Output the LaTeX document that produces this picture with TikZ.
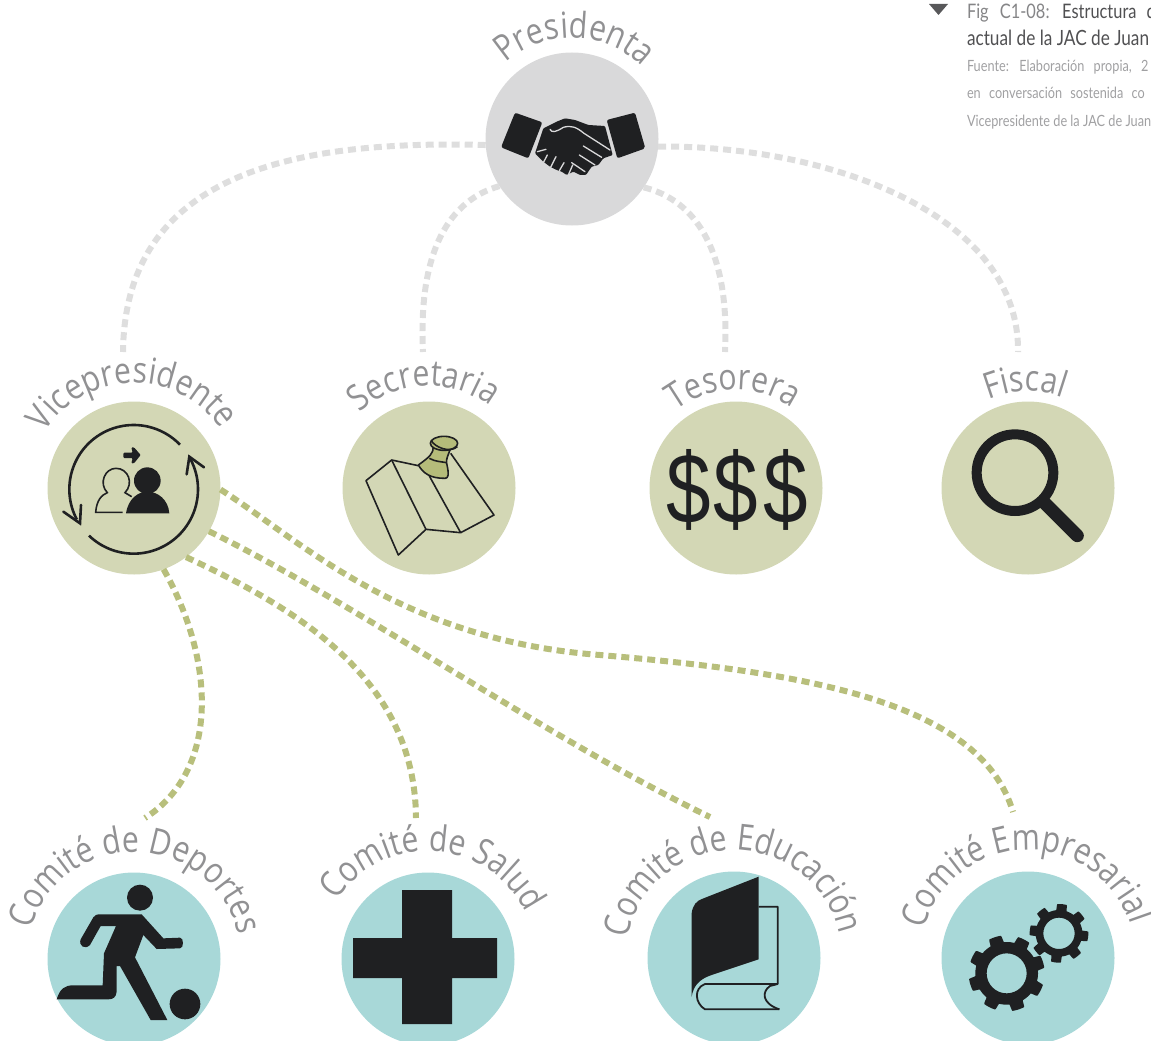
\documentclass[tikz,border=0pt]{standalone}
\usepackage{fontspec}
\usetikzlibrary{decorations.text}
\setmainfont{Open Sans}
\newfontfamily\labelfam[FakeStretch=0.84]{Open Sans}
\newfontfamily\capfont[FakeStretch=0.82]{Lato}
\newfontfamily\moneyfont[FakeStretch=0.8]{Liberation Sans}
\definecolor{iconblack}{HTML}{1F2022}
\definecolor{greycirc}{HTML}{D9D9DA}
\definecolor{olivecirc}{HTML}{D3D7B5}
\definecolor{tealcirc}{HTML}{A8D8D8}
\definecolor{greydash}{HTML}{DEDEDE}
\definecolor{greendash}{HTML}{B8BF7C}
\definecolor{pinolive}{HTML}{B5BC7A}
\definecolor{labgray}{HTML}{919193}
\definecolor{capdark}{HTML}{505052}
\definecolor{capmid}{HTML}{858587}
\definecolor{caplight}{HTML}{A0A0A2}
\definecolor{tridark}{HTML}{58585A}
\newcommand{\labfont}{\labelfam\fontsize{36}{40}\selectfont\color{labgray}}
% cx cy r mid text
\newcommand{\arclabel}[5]{\path[decorate,decoration={text along path,text={|\labfont|#5},text align=center}]
  plot[domain=#4+95:#4-95,samples=80] ({#1+#3*cos(\x)},{#2-#3*sin(\x)});}
% cx cy R0 R1 hole teeth phase
\newcommand{\geardraw}[7]{\fill[iconblack,even odd rule]
  plot[domain=0:360,samples=361] ({#1+(#3+(#4-#3)*max(0,min(1,2.4*cos(#6*(\x-#7))+0.45)))*cos(\x)},{#2-(#3+(#4-#3)*max(0,min(1,2.4*cos(#6*(\x-#7))+0.45)))*sin(\x)}) -- cycle
  (#1+#5,#2) arc[start angle=0,end angle=360,radius=#5];}
\tikzset{
  circ/.style={circle,minimum size=173pt,inner sep=0pt,outer sep=0pt},
  greylink/.style={draw=greydash,line width=6pt,dash pattern=on 8pt off 5pt},
  greenlink/.style={draw=greendash,line width=6pt,dash pattern=on 8pt off 5pt},
  capline/.style={anchor=base west,inner sep=0pt,outer sep=0pt},
  money/.style={text=iconblack,inner sep=0pt,font=\moneyfont\fontsize{100}{102}\selectfont},
  icon/.style={iconblack,line join=round},
  thinline/.style={draw=iconblack,line width=1.8pt,line join=round,fill=none},
  ringline/.style={draw=iconblack,line width=2.6pt},
  mapline/.style={draw=iconblack,line width=1.6pt,line join=round},
}
\begin{document}
\begin{tikzpicture}[x=1pt,y=-1pt]
\useasboundingbox (0,0) rectangle (1151,1041);
\clip (0,0) rectangle (1151,1041);
% circles
\node[circ,fill=greycirc] (pres) at (572,139) {};
\node[circ,fill=olivecirc] (vice) at (134,488) {};
\node[circ,fill=olivecirc] (secr) at (429,488) {};
\node[circ,fill=olivecirc] (teso) at (736,488) {};
\node[circ,fill=olivecirc] (fisc) at (1028,488) {};
\node[circ,fill=tealcirc] (depo) at (134,959) {};
\node[circ,fill=tealcirc] (salu) at (428,959) {};
\node[circ,fill=tealcirc] (educ) at (734,958) {};
\node[circ,fill=tealcirc] (empr) at (1028,958) {};
% free ends
\coordinate (eVice) at (123,352);
\coordinate (eSecr) at (423,352);
\coordinate (eTeso) at (725,352);
\coordinate (eFisc) at (1018,352);
\coordinate (eDepo) at (145,818);
\coordinate (eSalu) at (416,818);
\coordinate (eEduc) at (710,817);
\coordinate (eEmpr) at (1013,812);
\coordinate (mEmpr) at (600,655);
% connectors
\draw[greylink] (pres.184.6) .. controls (300,140) and (125,170) .. (eVice);
\draw[greylink] (pres.213) .. controls (450,200) and (418,250) .. (eSecr);
\draw[greylink] (pres.326) .. controls (695,200) and (730,250) .. (eTeso);
\draw[greylink] (pres.355.4) .. controls (830,145) and (1020,215) .. (eFisc);
\draw[greenlink] (vice.359) .. controls (300,540) and (400,640) .. (mEmpr) .. controls (800,672) and (980,700) .. (eEmpr);
\draw[greenlink] (vice.330) .. controls (350,600) and (550,740) .. (eEduc);
\draw[greenlink] (vice.307) .. controls (300,610) and (415,680) .. (eSalu);
\draw[greenlink] (vice.290) .. controls (215,660) and (220,770) .. (eDepo);
% labels
\arclabel{572}{139}{101}{88.5}{Presidenta}
\arclabel{134}{488}{105}{91}{Vicepresidente}
\arclabel{429}{488}{102}{93}{Secretaria}
\arclabel{736}{488}{98}{91.5}{Tesorera}
\arclabel{1028}{488}{97}{91.5}{Fiscal}
\arclabel{134}{959}{107}{88.5}{Comité de Deportes}
\arclabel{428}{959}{108}{86.5}{Comité de Salud}
\arclabel{734}{958}{108}{91}{Comité de Educación}
\arclabel{1028}{958}{108}{91.5}{Comité Empresarial}
% caption
\fill[tridark] (929,4) -- (948,4) -- (938.5,15) -- cycle;
\node[capline] (cap1) at (967,19) {\capfont\fontsize{20}{22}\selectfont\textcolor{capmid}{Fig\hspace{7pt} C1-08:}\hspace{7pt} \textcolor{capdark}{Estructura\hspace{6pt} d}};
\node[capline] (cap2) at (967,46) {\capfont\fontsize{21}{23}\selectfont\textcolor{capdark}{actual de la JAC de Juan}};
\node[capline] (cap3) at (967,72) {\capfont\fontsize{15.5}{17}\selectfont\textcolor{caplight}{Fuente:\hspace{6pt} Elaboración\hspace{6pt} propia,\hspace{6pt} 2}};
\node[capline] (cap4) at (967,99) {\capfont\fontsize{15.5}{17}\selectfont\textcolor{caplight}{en\hspace{5pt} conversación\hspace{5pt} sostenida\hspace{5pt} co}};
\node[capline] (cap5) at (967,126) {\capfont\fontsize{15.5}{17}\selectfont\textcolor{caplight}{Vicepresidente de la JAC de Juan}};
% handshake
\begin{scope}[shift={(460,40)},scale=1/3]
\fill[icon,rounded corners=2pt] (165,218) -- (247,247) -- (205,355) -- (123,322) -- cycle;
\fill[icon,rounded corners=2pt] (440,240) -- (525,218) -- (556,325) -- (472,355) -- cycle;
\fill[icon,rounded corners=1pt] (250,265) -- (290,245) -- (315,235) -- (345,240) -- (385,255) -- (435,258) -- (458,345) -- (430,355) -- (415,375) -- (395,380) -- (378,405) -- (360,405) -- (340,395) -- (320,405) -- (305,395) -- (290,390) -- (270,380) -- (250,365) -- (225,340) -- cycle;
\draw[greycirc,line width=1.3pt,line cap=round,line join=round] (270,268) .. controls (275,280) and (290,275) .. (310,262) .. controls (335,255) and (350,262) .. (372,280) -- (450,330);
\draw[greycirc,line width=1.3pt,line cap=round] (370,318) -- (425,352) (358,345) -- (405,375) (335,368) -- (375,395);
\draw[greycirc,line width=1.3pt,line cap=round] (232,335) -- (258,328) (262,345) -- (250,368) (288,350) -- (272,382) (312,368) -- (298,392) (338,375) -- (325,405);
\end{scope}
% vice icon
\begin{scope}[shift={(30,390)},scale=1/3]
\draw[ringline] plot[domain=44:208,samples=60] ({311+193*cos(\x)},{298-193*sin(\x)});
\draw[ringline] plot[domain=226:389,samples=60] ({311+193*cos(\x)},{298-193*sin(\x)});
\draw[ringline,line join=miter,line cap=round] (100,365) -- (150,400) -- (153,345);
\draw[ringline,line join=miter,line cap=round] (470,253) -- (478,200) -- (522,232);
\draw[draw=iconblack,line width=1.6pt] (278,367) -- (197,367) .. controls (200,330) and (215,315) .. (232,308) .. controls (205,280) and (225,235) .. (258,235) .. controls (295,235) and (312,280) .. (285,308) -- (305,320);
\fill[iconblack] (352,272) circle[radius=40];
\fill[iconblack] (288,370) .. controls (295,325) and (325,305) .. (352,305) .. controls (385,305) and (415,330) .. (418,370) -- cycle;
\fill[iconblack,rounded corners=1pt] (280,188) -- (308,188) -- (304,172) -- (312,172) -- (332,195) -- (312,220) -- (304,220) -- (308,204) -- (280,204) -- cycle;
\end{scope}
% map icon
\begin{scope}[shift={(330,390)},scale=1/3]
\draw[mapline] (265,227) -- (185,210) -- (108,272) -- (205,495) -- (288,418) -- (392,428) -- (492,375) -- (362,190);
\draw[mapline] (185,210) -- (288,418);
\draw[mapline] (298,258) -- (392,428);
\filldraw[mapline,fill=pinolive] (310,170) .. controls (310,190) and (300,200) .. (265,225) .. controls (280,250) and (300,265) .. (345,265) .. controls (355,265) and (358,255) .. (350,220) .. controls (348,205) and (355,195) .. (360,180) -- cycle;
\draw[mapline] (298,205) .. controls (315,215) and (335,215) .. (350,218);
\filldraw[mapline,fill=pinolive] (342,160) ellipse[x radius=41,y radius=21];
\draw[mapline] (304,152) .. controls (315,172) and (360,190) .. (382,170);
\end{scope}
% money
\node[money] (d1) at (689,490) {\$};
\node[money] (d2) at (736,490) {\$};
\node[money] (d3) at (786,490) {\$};
% magnifier
\begin{scope}[shift={(640,370)},scale=1/3]
\draw[draw=iconblack,line width=10pt] (1125,308) circle[radius=115];
\draw[draw=iconblack,line width=13pt,line cap=round] (1210,395) -- (1312,497);
\end{scope}
% cross
\fill[iconblack] (402,890) -- (452,890) -- (452,938) -- (497,938) -- (497,978) -- (452,978) -- (452,1024) -- (402,1024) -- (402,978) -- (353,978) -- (353,938) -- (402,938) -- cycle;
% runner
\begin{scope}[shift={(30,860)},scale=1/3]
\fill[iconblack] (330,113) circle[radius=39];
\fill[iconblack] (465,432) circle[radius=46];
\fill[iconblack] (205,163) -- (335,163) -- (400,235) -- (450,233) .. controls (462,233) and (462,265) .. (450,265) -- (380,267) -- (340,225) -- (315,292) -- (412,480) -- (362,480) -- (270,318) -- (260,318) -- (260,395) .. controls (258,412) and (250,418) .. (235,418) -- (80,418) .. controls (90,385) and (105,376) .. (130,376) -- (218,376) -- (222,280) -- (258,198) -- (212,198) -- (180,255) .. controls (165,270) and (145,258) .. (152,238) -- (190,172) .. controls (195,166) and (200,163) .. (205,163) -- cycle;
\end{scope}
% book
\begin{scope}[shift={(630,860)},scale=1/3]
\fill[iconblack] (386,50) -- (386,298) -- (245,345) .. controls (205,358) and (190,380) .. (185,410) -- (185,160) .. controls (188,135) and (200,122) .. (218,116) -- cycle;
\draw[thinline] (386,140) -- (443,140) -- (443,372) -- (225,372) .. controls (190,385) and (195,430) .. (225,448) -- (448,448);
\draw[thinline] (443,372) -- (420,378) .. controls (395,395) and (395,430) .. (448,448);
\end{scope}
% gears
\begin{scope}[shift={(930,860)},scale=1/3]
\geardraw{230}{340}{94}{114}{60}{8}{63}
\geardraw{387}{220}{70}{88}{47}{8}{84}
\end{scope}
\end{tikzpicture}
\end{document}
